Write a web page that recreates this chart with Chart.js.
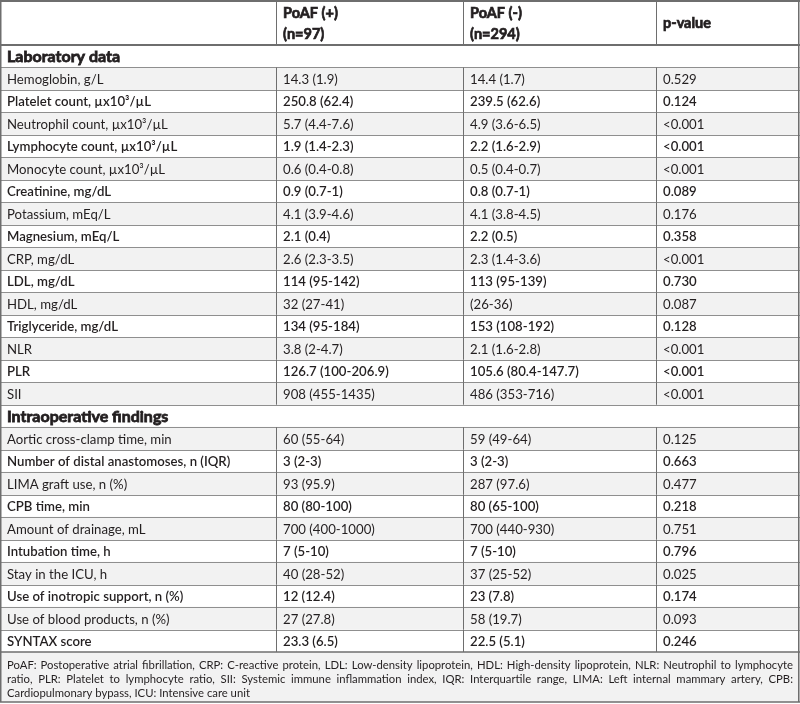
<!DOCTYPE html>
<html>
<head>
<meta charset="utf-8">
<script src="https://cdn.jsdelivr.net/npm/chart.js@4.4.0/dist/chart.umd.min.js"></script>
<style>
html, body { margin: 0; padding: 0; background: #fff; }
#wrap { width: 800px; height: 704px; position: relative; }
</style>
</head>
<body>
<div id="wrap"><canvas id="tbl"></canvas></div>
<script>
const columnHeads = [['PoAF (+)', '(n=97)'], ['PoAF (-)', '(n=294)'], ['p-value']];
const sectionNames = ['Laboratory data', 'Intraoperative findings'];

const labLabels = ['Hemoglobin, g/L', 'Platelet count, µx10³/µL', 'Neutrophil count, µx10³/µL',
  'Lymphocyte count, µx10³/µL', 'Monocyte count, µx10³/µL', 'Creatinine, mg/dL', 'Potassium, mEq/L',
  'Magnesium, mEq/L', 'CRP, mg/dL', 'LDL, mg/dL', 'HDL, mg/dL', 'Triglyceride, mg/dL', 'NLR', 'PLR', 'SII'];
const labPlus = ['14.3 (1.9)', '250.8 (62.4)', '5.7 (4.4-7.6)', '1.9 (1.4-2.3)', '0.6 (0.4-0.8)', '0.9 (0.7-1)',
  '4.1 (3.9-4.6)', '2.1 (0.4)', '2.6 (2.3-3.5)', '114 (95-142)', '32 (27-41)', '134 (95-184)', '3.8 (2-4.7)',
  '126.7 (100-206.9)', '908 (455-1435)'];
const labMinus = ['14.4 (1.7)', '239.5 (62.6)', '4.9 (3.6-6.5)', '2.2 (1.6-2.9)', '0.5 (0.4-0.7)', '0.8 (0.7-1)',
  '4.1 (3.8-4.5)', '2.2 (0.5)', '2.3 (1.4-3.6)', '113 (95-139)', '(26-36)', '153 (108-192)', '2.1 (1.6-2.8)',
  '105.6 (80.4-147.7)', '486 (353-716)'];
const labP = ['0.529', '0.124', '<0.001', '<0.001', '<0.001', '0.089', '0.176', '0.358', '<0.001', '0.730',
  '0.087', '0.128', '<0.001', '<0.001', '<0.001'];

const intraLabels = ['Aortic cross-clamp time, min', 'Number of distal anastomoses, n (IQR)', 'LIMA graft use, n (%)',
  'CPB time, min', 'Amount of drainage, mL', 'Intubation time, h', 'Stay in the ICU, h',
  'Use of inotropic support, n (%)', 'Use of blood products, n (%)', 'SYNTAX score'];
const intraPlus = ['60 (55-64)', '3 (2-3)', '93 (95.9)', '80 (80-100)', '700 (400-1000)', '7 (5-10)',
  '40 (28-52)', '12 (12.4)', '27 (27.8)', '23.3 (6.5)'];
const intraMinus = ['59 (49-64)', '3 (2-3)', '287 (97.6)', '80 (65-100)', '700 (440-930)', '7 (5-10)',
  '37 (25-52)', '23 (7.8)', '58 (19.7)', '22.5 (5.1)'];
const intraP = ['0.125', '0.663', '0.477', '0.218', '0.751', '0.796', '0.025', '0.174', '0.093', '0.246'];

const footnote = 'PoAF: Postoperative atrial fibrillation, CRP: C-reactive protein, LDL: Low-density lipoprotein, ' +
  'HDL: High-density lipoprotein, NLR: Neutrophil to lymphocyte ratio, PLR: Platelet to lymphocyte ratio, ' +
  'SII: Systemic immune inflammation index, IQR: Interquartile range, LIMA: Left internal mammary artery, ' +
  'CPB: Cardiopulmonary bypass, ICU: Intensive care unit';

// column edges on the x scale (0..800)
const colEdges = [0, 276, 463, 656, 800];

// build rows: section header rows + data rows
const rows = [];
function addSection(name, labels, plus, minus, p) {
  rows.push({ label: name, section: true });
  labels.forEach((l, i) => rows.push({ label: l, cells: [l, plus[i], minus[i], p[i]], shaded: i % 2 === 0 }));
}
addSection(sectionNames[0], labLabels, labPlus, labMinus, labP);
addSection(sectionNames[1], intraLabels, intraPlus, intraMinus, intraP);

const textColor = '#231f20';
const lineColor = '#8f8f8f';
const borderColor = '#6e6e6e';
const shade = '#f2f2f2';
const fam = 'Lato, "Open Sans", sans-serif';

// heavy text: bold fill plus a thin stroke
function heavyText(ctx, t, x, y) {
  ctx.fillText(t, x, y);
  ctx.strokeText(t, x, y);
}

const tablePlugin = {
  id: 'tableText',
  afterDatasetsDraw(chart) {
    const { ctx, chartArea, scales: { x, y } } = chart;
    const W = chart.width, H = chart.height;
    const top = chartArea.top, bottom = chartArea.bottom;
    const band = y.getPixelForValue(1) - y.getPixelForValue(0);
    const edges = colEdges.map(v => x.getPixelForValue(v));
    ctx.save();

    // footer background
    ctx.fillStyle = shade;
    ctx.fillRect(0, bottom, W, H - bottom - 2);

    // header text
    ctx.fillStyle = textColor;
    ctx.strokeStyle = textColor;
    ctx.lineWidth = 0.7;
    ctx.textBaseline = 'middle';
    ctx.font = `bold 14.5px ${fam}`;
    columnHeads.forEach((lines, c) => {
      const tx = edges[c + 1] + 7;
      if (lines.length === 2) {
        heavyText(ctx, lines[0], tx, 13);
        heavyText(ctx, lines[1], tx, 34);
      } else {
        heavyText(ctx, lines[0], tx, top / 2 + 1);
      }
    });

    // rows
    rows.forEach((r, i) => {
      const cy = y.getPixelForValue(i) + 1;
      if (r.section) {
        ctx.font = `bold 16px ${fam}`;
        ctx.lineWidth = 0.8;
        heavyText(ctx, r.label, 7, cy);
        return;
      }
      ctx.font = `${r.shaded ? 400 : 600} 13.2px ${fam}`;
      r.cells.forEach((t, c) => ctx.fillText(t, edges[c] + 7, cy));
    });

    // horizontal lines
    ctx.strokeStyle = lineColor;
    ctx.lineWidth = 1;
    for (let i = 1; i < rows.length; i++) {
      const yy = Math.round(top + i * band) + 0.5;
      ctx.beginPath(); ctx.moveTo(0, yy); ctx.lineTo(W, yy); ctx.stroke();
    }
    ctx.strokeStyle = borderColor;
    [[1, 2], [top, 2], [bottom, 1.5], [H - 2, 1.5]].forEach(([yy, lw]) => {
      ctx.lineWidth = lw;
      ctx.beginPath(); ctx.moveTo(0, yy); ctx.lineTo(W, yy); ctx.stroke();
    });

    // vertical lines
    ctx.lineWidth = 1.5;
    [0.75, W - 1.25].forEach(xx => {
      ctx.beginPath(); ctx.moveTo(xx, 0); ctx.lineTo(xx, H - 2); ctx.stroke();
    });
    const inner = edges.slice(1, -1);
    const spans = [[0, top]];
    rows.forEach((r, i) => {
      if (!r.section) spans.push([top + i * band, top + (i + 1) * band]);
    });
    ctx.lineWidth = 1;
    inner.forEach(ex => {
      const xx = Math.round(ex) + 0.5;
      spans.forEach(([a, b]) => {
        ctx.beginPath(); ctx.moveTo(xx, a); ctx.lineTo(xx, b); ctx.stroke();
      });
    });

    // footnote, wrapped and justified
    ctx.fillStyle = textColor;
    ctx.font = `400 11.3px ${fam}`;
    const maxW = W - 14;
    const words = footnote.split(' ');
    const lines = [];
    let cur = [];
    words.forEach(w => {
      const test = cur.concat(w).join(' ');
      if (ctx.measureText(test).width > maxW && cur.length) { lines.push(cur); cur = [w]; }
      else cur.push(w);
    });
    if (cur.length) lines.push(cur);
    lines.forEach((ws, li) => {
      const ly = bottom + 13 + li * 14;
      if (li === lines.length - 1) { ctx.fillText(ws.join(' '), 7, ly); return; }
      const wordsW = ws.reduce((s, w) => s + ctx.measureText(w).width, 0);
      const gap = (maxW - wordsW) / (ws.length - 1);
      let xx = 7;
      ws.forEach(w => { ctx.fillText(w, xx, ly); xx += ctx.measureText(w).width + gap; });
    });
    ctx.restore();
  }
};

new Chart(document.getElementById('tbl'), {
  type: 'bar',
  data: {
    labels: rows.map(r => r.label),
    datasets: [{
      label: 'row shading',
      data: rows.map(r => (r.shaded ? [colEdges[0], colEdges[colEdges.length - 1]] : null)),
      backgroundColor: shade,
      borderWidth: 0,
      barPercentage: 1,
      categoryPercentage: 1
    }]
  },
  options: {
    indexAxis: 'y',
    responsive: true,
    maintainAspectRatio: false,
    animation: false,
    layout: { padding: { top: 45, bottom: 52, left: 0, right: 0 } },
    plugins: { legend: { display: false }, tooltip: { enabled: false } },
    scales: {
      x: { type: 'linear', min: colEdges[0], max: colEdges[colEdges.length - 1], display: false },
      y: { type: 'category', display: false, offset: true }
    }
  },
  plugins: [tablePlugin]
});
</script>
</body>
</html>
